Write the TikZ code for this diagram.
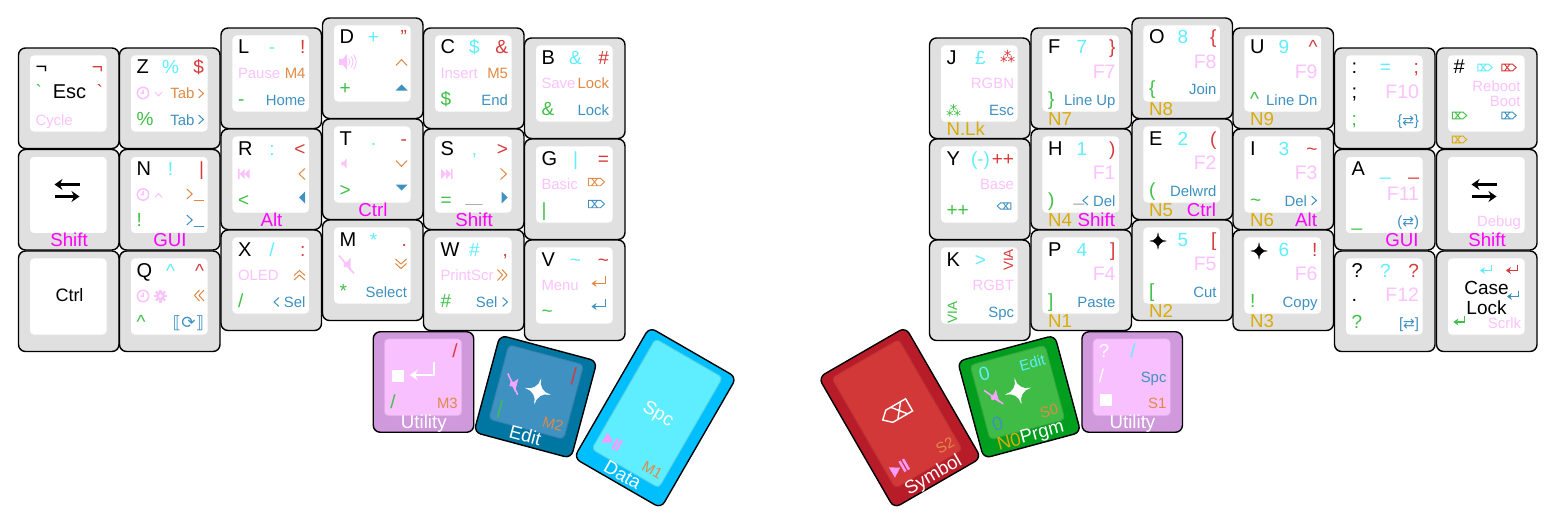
\documentclass[tikz,border=0pt]{standalone}
\usepackage{fontspec}
\setmainfont{Liberation Sans}
\newfontfamily\dejavu{DejaVu Sans}
\newfontfamily\dejastar[FakeBold=1.6]{DejaVu Sans}
\usetikzlibrary{arrows.meta}

\definecolor{clrbase}{HTML}{E0E0E0}
\definecolor{clrcyan}{HTML}{5FEEFF}
\definecolor{clrred}{HTML}{D73A3A}
\definecolor{clrgreen}{HTML}{3FC046}
\definecolor{clrpink}{HTML}{FBC2FC}
\definecolor{clrorange}{HTML}{E08A46}
\definecolor{clrblue}{HTML}{3E91C0}
\definecolor{clrgold}{HTML}{D9AB0A}
\definecolor{clrgray}{HTML}{AAAAAA}
\definecolor{clrmag}{HTML}{FF00FF}
\definecolor{clrpurple}{HTML}{CF99DB}
\definecolor{clrlilac}{HTML}{F8C0FF}
\definecolor{clrteal}{HTML}{0076A3}
\definecolor{clrsky}{HTML}{00BFFF}
\definecolor{clrcrimson}{HTML}{B81C28}
\definecolor{clrmaroon}{HTML}{D33838}
\definecolor{clrleaf}{HTML}{009E1F}
\definecolor{clrlime}{HTML}{3EBC46}

\tikzset{
  keybase/.style={draw=black, line width=1.4pt, rounded corners=7pt},
  keytop/.style={line width=0.9pt, rounded corners=4pt},
  legend/.style={inner sep=0pt, outer sep=0pt},
  mainsize/.style={font=\fontsize{20pt}{21pt}\selectfont},
  bigsize/.style={font=\fontsize{19pt}{20pt}\selectfont},
  frontsize/.style={font=\fontsize{18.7pt}{19pt}\selectfont},
  smallsize/.style={font=\fontsize{14.9pt}{16pt}\selectfont},
  fkeysize/.style={font=\fontsize{19.5pt}{21pt}\selectfont},
  blackleg/.style={mainsize, text=black},
  cyanleg/.style={bigsize, text=clrcyan},
  redleg/.style={bigsize, text=clrred},
  greenleg/.style={bigsize, text=clrgreen},
  pinkleg/.style={smallsize, text=clrpink},
  pinkbig/.style={fkeysize, text=clrpink},
  orangeleg/.style={smallsize, text=clrorange},
  blueleg/.style={smallsize, text=clrblue},
  whiteleg/.style={frontsize, text=white},
  magentaleg/.style={frontsize, text=clrmag},
  goldleg/.style={frontsize, text=clrgold},
  % legend slots on a key
  tl/.style={anchor=base west, at={(17,26)}},
  tc/.style={anchor=base, at={(51,26)}},
  tr/.style={anchor=base east, at={(84.5,26)}},
  ml/.style={anchor=base west, at={(17,\keyh/2+0.7)}},
  mc/.style={anchor=base, at={(51,\keyh/2+0.7)}},
  mr/.style={anchor=base east, at={(84.5,\keyh/2+0.7)}},
  bl/.style={anchor=base west, at={(17,\keyh-23.5)}},
  br/.style={anchor=base east, at={(84.5,\keyh-23.5)}},
  fl/.style={anchor=base west, at={(17,\keyh-3.5)}},
  fc/.style={anchor=base, at={(50.5,\keyh-3.5)}},
  fr/.style={anchor=base east, at={(84,\keyh-3.5)}},
  iconline/.style={line width=1pt},
}

% name, centre x, centre y, angle, height, base colour, top colour, legends
\newcommand{\thumbkey}[8]{
  \begin{scope}[shift={(#2,#3)}, rotate=#4, shift={(-50.25,-#5/2)}, every node/.append style={transform shape}]
    \def\keyid{#1}
    \def\keyh{#5}
    \draw[keybase, fill=#6] (0,0) rectangle (100.5,#5);
    \draw[keytop, fill=#7, draw=#7!88!black] (11,7) rectangle (88.5,#5-16.5);
    #8
  \end{scope}
}
\newcommand{\keycap}[4]{\thumbkey{#1}{#2+50.25}{#3+50.25}{0}{100.5}{clrbase}{white}{#4}}
\newcommand{\leg}[3]{\node[legend,#1,#2] (\keyid-#1) {#3};}

% icons: x, y, then angle and/or colour
\newcommand{\chevron}[4]{\draw[iconline, shift={(#1,#2)}, rotate=#3, #4] (-3,5.5) -- (3,0) -- (-3,-5.5);}
\newcommand{\dchevron}[4]{\draw[iconline, shift={(#1,#2)}, rotate=#3, #4] (-5,5.5) -- (0,0) -- (-5,-5.5) (-0.5,5.5) -- (4.5,0) -- (-0.5,-5.5);}
\newcommand{\wedgeicon}[4]{\fill[#4, shift={(#1,#2)}, rotate=#3] (-3,6) -- (3,0) -- (-3,-6) -- cycle;}
\newcommand{\skipicon}[3]{\fill[clrpink, shift={(#1,#2)}, rotate=#3] (-5.5,5) -- (-0.5,0) -- (-5.5,-5) -- cycle (-0.5,5) -- (4.5,0) -- (-0.5,-5) -- cycle (4.5,5) rectangle (6,-5);}
\newcommand{\playicon}[2]{\fill[clrlilac!80!clrmag, shift={(#1,#2)}] (-8.5,6) -- (1,0) -- (-8.5,-6) -- cycle (2.5,6) rectangle (5,-6) (6.5,6) rectangle (9,-6);}
\newcommand{\speaker}[4]{\fill[#4, shift={(#1,#2)}, scale=#3] (-8.5,3) -- (-4.5,3) -- (-0.5,8) -- (-0.5,-8) -- (-4.5,-3) -- (-8.5,-3) -- cycle;}
\newcommand{\muteicon}[3]{
  \speaker{#1+4.5}{#2}{0.85}{#3}
  \draw[#3, line width=1.5pt] (#1-7.5,#2-9) -- (#1+7.5,#2+9);
}
\newcommand{\clockicon}[2]{\draw[clrpink, line width=1.5pt, shift={(#1,#2)}] (0,0) circle (5.7) (0,-3.5) -- (0,0) -- (-2.5,0);}
\newcommand{\gearicon}[2]{
  \begin{scope}[shift={(#1,#2)}]
    \foreach \a in {0,45,...,315} {\draw[clrpink, line width=2.4pt] (\a:3.5) -- (\a:6.5);}
    \fill[clrpink] (0,0) circle (4.6);
    \fill[white] (0,0) circle (1.8);
  \end{scope}
}
\newcommand{\delicon}[4]{\draw[line width=0.9pt, shift={(#1,#2)}, rotate=#3, #4] (-8,3.7) -- (4,3.7) -- (8,0) -- (4,-3.7) -- (-8,-3.7) -- cycle (-5,3.7) -- (1,-3.7) (-5,-3.7) -- (1,3.7);}
\newcommand{\entericon}[3]{\draw[line width=1.2pt, shift={(#1,#2)}, -{Stealth[length=5pt,width=7pt]}, #3] (7,-5) -- (7,2.5) -- (-7,2.5);}
\newcommand{\swapicon}[2]{
  \draw[black, line width=2.3pt, -{Stealth[length=8pt,width=11pt]}] (#1+12.5,#2-6) -- (#1-12.5,#2-6);
  \draw[black, line width=2.3pt, -{Stealth[length=8pt,width=11pt]}] (#1-12.5,#2+6) -- (#1+12.5,#2+6);
}
\newcommand{\termicon}[3]{
  \chevron{#1}{#2}{0}{#3,scale=0.9}
  \draw[#3, iconline] (#1+4,#2+6) -- (#1+14,#2+6);
}
\newcommand{\squareicon}[2]{\fill[white] (#1-6,#2-6) rectangle (#1+6,#2+6);}

\begin{document}
\begin{tikzpicture}[x=1pt, y=-1pt]
  \useasboundingbox (0,0) rectangle (1555,527);

  % Left hand, column 0
  \keycap{esc}{18.5}{48}{
    \leg{tl}{blackleg}{¬} \leg{tr}{redleg}{¬}
    \leg{ml}{greenleg}{\textasciigrave} \leg{mc}{blackleg}{Esc} \leg{mr}{redleg}{\textasciigrave}
    \leg{bl}{pinkleg}{Cycle}
  }
  \keycap{lshift}{18.5}{149.5}{
    \swapicon{48.5}{41}
    \leg{fc}{magentaleg}{Shift}
  }
  \keycap{lctrl}{18.5}{251}{
    \leg{mc}{blackleg,font=\fontsize{18pt}{19pt}\selectfont}{Ctrl}
  }

  % Left hand, column 1
  \keycap{z}{119.5}{48}{
    \leg{tl}{blackleg}{Z} \leg{tc}{cyanleg}{\%} \leg{tr}{redleg}{\$}
    \clockicon{23.5}{45} \chevron{39}{46}{-90}{clrpink,scale=0.65}
    \node[legend,anchor=base east,orangeleg] (z-tab) at (75,51) {Tab};
    \chevron{81.5}{45.5}{0}{clrorange,scale=0.8}
    \leg{bl}{greenleg}{\%}
    \node[legend,anchor=base east,blueleg] (z-tabb) at (75,77) {Tab};
    \chevron{81.5}{71.5}{0}{clrblue,scale=0.8}
  }
  \keycap{n}{119.5}{149.5}{
    \leg{tl}{blackleg}{N} \leg{tc}{cyanleg}{!} \leg{tr}{redleg}{|}
    \clockicon{23.5}{45} \chevron{39}{46}{90}{clrpink,scale=0.65}
    \termicon{70}{44.5}{clrorange}
    \leg{bl}{greenleg}{!}
    \termicon{70}{70.5}{clrblue}
    \leg{fc}{magentaleg}{GUI}
  }
  \keycap{q}{119.5}{251}{
    \leg{tl}{blackleg}{Q} \leg{tc}{cyanleg}{\textasciicircum} \leg{tr}{redleg}{\textasciicircum}
    \clockicon{23.5}{45} \gearicon{41}{45}
    \dchevron{79.5}{44.5}{180}{clrorange}
    \leg{bl}{greenleg}{\textasciicircum}
    \leg{br}{blueleg,font=\dejavu\fontsize{17pt}{18pt}\selectfont}{⟦⟳⟧}
  }

  % Left hand, column 2
  \keycap{l}{221}{28}{
    \leg{tl}{blackleg}{L} \leg{tc}{cyanleg}{-} \leg{tr}{redleg}{!}
    \leg{ml}{pinkleg}{Pause} \leg{mr}{orangeleg}{M4}
    \leg{bl}{greenleg}{-} \leg{br}{blueleg}{Home}
  }
  \keycap{r}{221}{129}{
    \leg{tl}{blackleg}{R} \leg{tc}{cyanleg}{:} \leg{tr}{redleg}{<}
    \skipicon{23}{45}{180} \chevron{81}{45}{180}{clrorange}
    \leg{bl}{greenleg}{<} \wedgeicon{81}{68.5}{180}{clrblue}
    \leg{fc}{magentaleg}{Alt}
  }
  \keycap{x}{221}{230}{
    \leg{tl}{blackleg}{X} \leg{tc}{cyanleg}{/} \leg{tr}{redleg}{:}
    \leg{ml}{pinkleg}{OLED} \dchevron{78.5}{45}{90}{clrorange}
    \leg{bl}{greenleg}{/} \leg{br}{blueleg}{Sel}
    \chevron{55.5}{72}{180}{clrblue,scale=0.8}
  }

  % Left hand, column 3
  \keycap{d}{322.5}{18}{
    \leg{tl}{blackleg}{D} \leg{tc}{cyanleg}{+} \leg{tr}{redleg}{"}
    \speaker{25}{44}{1}{clrpink}
    \draw[clrpink, line width=0.9pt] (26,-3.5+44) .. controls (28,-1.5+44) and (28,1.5+44) .. (26,3.5+44)
      (28.5,-5.5+44) .. controls (31,-2+44) and (31,2+44) .. (28.5,5.5+44)
      (31,-7.5+44) .. controls (34.5,-3+44) and (34.5,3+44) .. (31,7.5+44);
    \chevron{79}{44.5}{90}{clrorange}
    \leg{bl}{greenleg}{+} \wedgeicon{79}{69.5}{90}{clrblue}
  }
  \keycap{t}{322.5}{119}{
    \leg{tl}{blackleg}{T} \leg{tc}{cyanleg}{.} \leg{tr}{redleg}{-}
    \speaker{24.5}{44.5}{0.65}{clrpink} \chevron{79}{44.5}{-90}{clrorange}
    \leg{bl}{greenleg}{>} \wedgeicon{79}{68.5}{-90}{clrblue}
    \leg{fc}{magentaleg}{Ctrl}
  }
  \keycap{m}{322.5}{220}{
    \leg{tl}{blackleg}{M} \leg{tc}{cyanleg}{*} \leg{tr}{redleg}{.}
    \muteicon{24}{44.5}{clrpink} \dchevron{78.5}{44}{-90}{clrorange}
    \leg{bl}{greenleg}{*} \leg{br}{blueleg}{Select}
  }

  % Left hand, column 4
  \keycap{c}{423.5}{28}{
    \leg{tl}{blackleg}{C} \leg{tc}{cyanleg}{\$} \leg{tr}{redleg}{\&}
    \leg{ml}{pinkleg}{Insert} \leg{mr}{orangeleg}{M5}
    \leg{bl}{greenleg}{\$} \leg{br}{blueleg}{End}
  }
  \keycap{s}{423.5}{129}{
    \leg{tl}{blackleg}{S} \leg{tc}{cyanleg}{,} \leg{tr}{redleg}{>}
    \skipicon{23}{45}{0} \chevron{80}{45}{0}{clrorange}
    \leg{bl}{greenleg}{=} \wedgeicon{81}{68.5}{0}{clrblue}
    \node[legend,smallsize,anchor=base,text=clrgray] (s-bar) at (50.5,73) {\_\_};
    \leg{fc}{magentaleg}{Shift}
  }
  \keycap{w}{423.5}{230}{
    \leg{tl}{blackleg}{W} \leg{tc}{cyanleg}{\#} \leg{tr}{redleg}{,}
    \leg{ml}{pinkleg}{PrintScr} \dchevron{79}{45}{0}{clrorange}
    \leg{bl}{greenleg}{\#}
    \node[legend,anchor=base east,blueleg] (w-sel) at (74,77) {Sel};
    \chevron{81.5}{72}{0}{clrblue,scale=0.8}
  }

  % Left hand, column 5
  \keycap{b}{524.5}{38}{
    \leg{tl}{blackleg}{B} \leg{tc}{cyanleg}{\&} \leg{tr}{redleg}{\#}
    \leg{ml}{pinkleg}{Save} \leg{mr}{orangeleg}{Lock}
    \leg{bl}{greenleg}{\&} \leg{br}{blueleg}{Lock}
  }
  \keycap{g}{524.5}{139}{
    \leg{tl}{blackleg}{G} \leg{tc}{cyanleg}{|} \leg{tr}{redleg}{=}
    \leg{ml}{pinkleg}{Basic} \delicon{72}{43}{0}{clrorange}
    \leg{bl}{greenleg}{|} \delicon{72}{65}{0}{clrblue}
  }
  \keycap{v}{524.5}{240}{
    \leg{tl}{blackleg}{V} \leg{tc}{cyanleg}{\textasciitilde} \leg{tr}{redleg}{\textasciitilde}
    \leg{ml}{pinkleg}{Menu} \entericon{74}{41}{clrorange}
    \leg{bl}{greenleg}{\textasciitilde} \entericon{74}{64}{clrblue}
  }

  % Left thumbs
  \thumbkey{utilb}{423.5}{382}{0}{100.5}{clrpurple}{clrlilac}{
    \leg{tr}{redleg}{/}
    \squareicon{24.5}{44.5} \entericon{48.5}{39}{white,line width=2.3pt,scale=1.7,-{Stealth[length=8pt,width=11pt]}}
    \leg{bl}{greenleg}{/} \leg{br}{orangeleg}{M3}
    \leg{fc}{whiteleg}{Utility}
  }
  \thumbkey{edit}{535.5}{396.7}{-15}{100.5}{clrteal}{clrblue}{
    \leg{tr}{redleg}{|}
    \muteicon{25}{44}{clrlilac!85!clrmag}
    \node[legend,text=white,font=\dejastar\fontsize{32pt}{33pt}\selectfont] (edit-star) at (51,44.5) {✦};
    \leg{bl}{greenleg}{|} \leg{br}{orangeleg}{M2}
    \leg{fc}{whiteleg}{Edit}
  }
  \thumbkey{data}{655.2}{417.7}{-30}{151}{clrsky}{clrcyan}{
    \leg{mc}{whiteleg}{Spc}
    \playicon{25}{118}
    \leg{br}{orangeleg}{M1}
    \leg{fc}{whiteleg}{Data}
  }

  % Right thumbs
  \thumbkey{symb}{899.8}{417.7}{30}{151}{clrcrimson}{clrmaroon}{
    \delicon{49.5}{69}{180}{white,line width=1.4pt,scale=1.9}
    \playicon{24.5}{119}
    \leg{br}{orangeleg}{S2}
    \leg{fc}{whiteleg}{Symbol}
  }
  \thumbkey{prgm}{1019.2}{396.8}{15}{100.5}{clrleaf}{clrlime}{
    \leg{tl}{cyanleg}{0} \leg{tr}{cyanleg,smallsize}{Edit}
    \muteicon{25.5}{44}{clrlilac!85!clrmag}
    \node[legend,text=white,font=\dejastar\fontsize{32pt}{33pt}\selectfont] (prgm-star) at (50.5,44.5) {✦};
    \leg{bl}{blueleg,bigsize}{0} \leg{br}{orangeleg}{S0}
    \leg{fl}{goldleg}{N0} \node[legend,anchor=base,whiteleg] (prgm-front) at (63,96) {Prgm};
  }
  \thumbkey{utila}{1132.2}{382}{0}{100.5}{clrpurple}{clrlilac}{
    \leg{tl}{whiteleg}{?} \leg{tc}{cyanleg}{/}
    \leg{ml}{whiteleg}{/} \leg{mr}{blueleg}{Spc}
    \squareicon{24}{68.7} \leg{br}{orangeleg}{S1}
    \leg{fc}{whiteleg}{Utility}
  }

  % Right hand, column 0
  \keycap{j}{929.5}{38}{
    \leg{tl}{blackleg}{J} \leg{tc}{cyanleg}{£}
    \node[legend,text=clrred,font=\dejavu\fontsize{15pt}{16pt}\selectfont] (j-ast) at (78,19) {⁂};
    \leg{mr}{pinkleg}{RGBN}
    \node[legend,text=clrgreen,font=\dejavu\fontsize{15pt}{16pt}\selectfont] (j-astb) at (24,72.5) {⁂};
    \leg{br}{blueleg}{Esc} \leg{fl}{goldleg}{N.Lk}
  }
  \keycap{y}{929.5}{139}{
    \leg{tl}{blackleg}{Y} \leg{tc}{cyanleg}{(-)} \leg{tr}{redleg}{++}
    \leg{mr}{pinkleg}{Base}
    \leg{bl}{greenleg}{++} \delicon{74.5}{67}{180}{clrblue,scale=0.85}
  }
  \keycap{k}{929.5}{240}{
    \leg{tl}{blackleg}{K} \leg{tc}{cyanleg}{>}
    \node[legend,rotate=90,text=clrred,font=\fontsize{13.5pt}{14pt}\selectfont] (k-via) at (79,20) {VIA};
    \leg{mr}{pinkleg}{RGBT}
    \node[legend,rotate=90,text=clrgreen,font=\fontsize{13.5pt}{14pt}\selectfont] (k-viab) at (23,72.5) {VIA};
    \leg{br}{blueleg}{Spc}
  }

  % Right hand, column 1
  \keycap{f}{1031}{28}{
    \leg{tl}{blackleg}{F} \leg{tc}{cyanleg}{7} \leg{tr}{redleg}{\}}
    \leg{mr}{pinkbig}{F7}
    \leg{bl}{greenleg}{\}} \leg{br}{blueleg}{Line Up} \leg{fl}{goldleg}{N7}
  }
  \keycap{h}{1031}{129}{
    \leg{tl}{blackleg}{H} \leg{tc}{cyanleg}{1} \leg{tr}{redleg}{)}
    \leg{mr}{pinkbig}{F1}
    \leg{bl}{greenleg}{)} \leg{br}{blueleg}{Del}
    \node[legend,bigsize,anchor=base,text=clrgray] (h-bar) at (48,72) {\_};
    \chevron{54.5}{71.5}{180}{clrblue,scale=0.8}
    \leg{fl}{goldleg}{N4} \leg{fr}{magentaleg}{Shift}
  }
  \keycap{p}{1031}{230}{
    \leg{tl}{blackleg}{P} \leg{tc}{cyanleg}{4} \leg{tr}{redleg}{]}
    \leg{mr}{pinkbig}{F4}
    \leg{bl}{greenleg}{]} \leg{br}{blueleg}{Paste} \leg{fl}{goldleg}{N1}
  }

  % Right hand, column 2
  \keycap{o}{1132}{18}{
    \leg{tl}{blackleg}{O} \leg{tc}{cyanleg}{8} \leg{tr}{redleg}{\{}
    \leg{mr}{pinkbig}{F8}
    \leg{bl}{greenleg}{\{} \leg{br}{blueleg}{Join} \leg{fl}{goldleg}{N8}
  }
  \keycap{e}{1132}{119}{
    \leg{tl}{blackleg}{E} \leg{tc}{cyanleg}{2} \leg{tr}{redleg}{(}
    \leg{mr}{pinkbig}{F2}
    \leg{bl}{greenleg}{(} \leg{br}{blueleg}{Delwrd}
    \leg{fl}{goldleg}{N5} \leg{fr}{magentaleg}{Ctrl}
  }
  \keycap{star}{1132}{220}{
    \node[legend,text=black,font=\dejastar\fontsize{21pt}{22pt}\selectfont] (star-tl) at (26,21) {✦};
    \leg{tc}{cyanleg}{5} \leg{tr}{redleg}{[}
    \leg{mr}{pinkbig}{F5}
    \leg{bl}{greenleg}{[} \leg{br}{blueleg}{Cut} \leg{fl}{goldleg}{N2}
  }

  % Right hand, column 3
  \keycap{u}{1233}{28}{
    \leg{tl}{blackleg}{U} \leg{tc}{cyanleg}{9} \leg{tr}{redleg}{\textasciicircum}
    \leg{mr}{pinkbig}{F9}
    \leg{bl}{greenleg}{\textasciicircum} \leg{br}{blueleg}{Line Dn} \leg{fl}{goldleg}{N9}
  }
  \keycap{i}{1233}{129}{
    \leg{tl}{blackleg}{I} \leg{tc}{cyanleg}{3} \leg{tr}{redleg}{\textasciitilde}
    \leg{mr}{pinkbig}{F3}
    \leg{bl}{greenleg}{\textasciitilde}
    \node[legend,anchor=base east,blueleg] (i-del) at (74,77) {Del};
    \chevron{81}{71.5}{0}{clrblue,scale=0.8}
    \leg{fl}{goldleg}{N6} \leg{fr}{magentaleg}{Alt}
  }
  \keycap{starb}{1233}{230}{
    \node[legend,text=black,font=\dejastar\fontsize{21pt}{22pt}\selectfont] (starb-tl) at (26,21) {✦};
    \leg{tc}{cyanleg}{6} \leg{tr}{redleg}{!}
    \leg{mr}{pinkbig}{F6}
    \leg{bl}{greenleg}{!} \leg{br}{blueleg}{Copy} \leg{fl}{goldleg}{N3}
  }

  % Right hand, column 4
  \keycap{colon}{1334.5}{48}{
    \leg{tl}{blackleg}{:} \leg{tc}{cyanleg}{=} \leg{tr}{redleg}{;}
    \leg{ml}{blackleg}{;} \leg{mr}{pinkbig}{F10}
    \leg{bl}{greenleg}{;} \leg{br}{blueleg}{\{{\dejavu\fontsize{14pt}{15pt}\selectfont⇄}\}}
  }
  \keycap{a}{1334.5}{149.5}{
    \leg{tl}{blackleg}{A} \leg{tc}{cyanleg}{\_} \leg{tr}{redleg}{\_}
    \leg{mr}{pinkbig}{F11}
    \leg{bl}{greenleg}{\_} \leg{br}{blueleg}{({\dejavu\fontsize{14pt}{15pt}\selectfont⇄})}
    \leg{fr}{magentaleg}{GUI}
  }
  \keycap{qmark}{1334.5}{251}{
    \leg{tl}{blackleg}{?} \leg{tc}{cyanleg}{?} \leg{tr}{redleg}{?}
    \leg{ml}{blackleg}{.} \leg{mr}{pinkbig}{F12}
    \leg{bl}{greenleg}{?} \leg{br}{blueleg}{[{\dejavu\fontsize{14pt}{15pt}\selectfont⇄}]}
  }

  % Right hand, column 5
  \keycap{hash}{1436.5}{48}{
    \leg{tl}{blackleg}{\#} \delicon{48.5}{19.5}{0}{clrcyan,scale=0.9} \delicon{72.5}{19.5}{0}{clrred,scale=0.9}
    \node[legend,anchor=base east,pinkleg] (hash-reboot) at (84,43) {Reboot};
    \node[legend,anchor=base east,pinkleg] (hash-boot) at (84,58) {Boot};
    \delicon{23}{67.5}{0}{clrgreen,scale=0.9} \delicon{72.5}{67.5}{0}{clrblue,scale=0.9}
    \delicon{23}{91.5}{0}{clrgold,scale=0.9}
  }
  \keycap{rshift}{1436.5}{149.5}{
    \swapicon{47.5}{41}
    \leg{br}{pinkleg}{Debug} \leg{fc}{magentaleg}{Shift}
  }
  \keycap{caps}{1436.5}{251}{
    \entericon{49}{17.5}{clrcyan,scale=0.8} \entericon{75}{17.5}{clrred,scale=0.8}
    \node[legend,bigsize,text=black,align=center] (caps-mid) at (50,47) {Case\\Lock};
    \entericon{76}{43.5}{clrblue,scale=0.8}
    \entericon{22.5}{69}{clrgreen,scale=0.8} \leg{br}{pinkleg}{Scrlk}
  }
\end{tikzpicture}
\end{document}
